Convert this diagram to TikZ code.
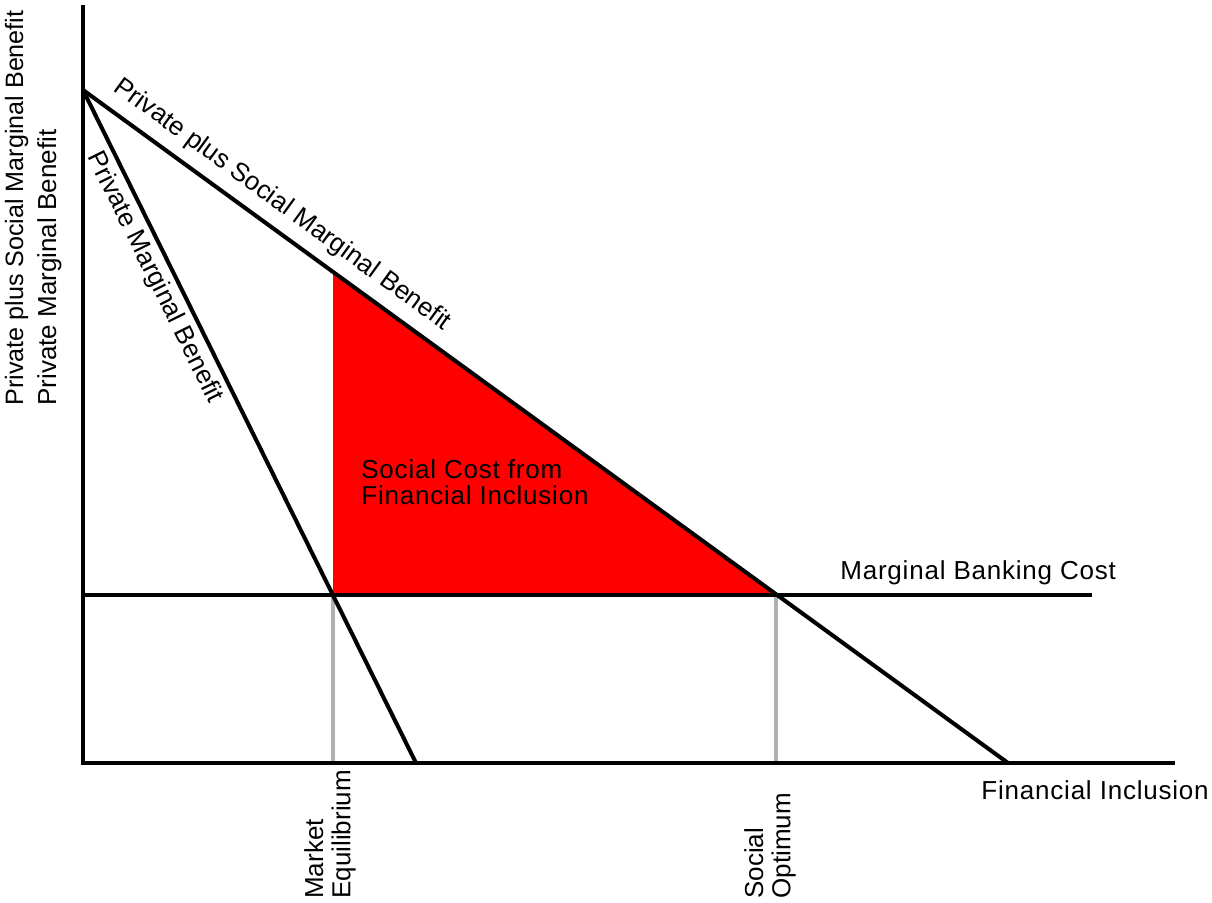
\documentclass[tikz,border=0pt]{standalone}
\usepackage{fontspec}
\setmainfont{Liberation Sans}
\newfontfamily\spacedfont{Liberation Sans}[LetterSpace=3]
\usepackage{tikz}
\usetikzlibrary{positioning}
\definecolor{areared}{RGB}{255,0,0}
\definecolor{guidegray}{RGB}{176,176,176}
\tikzset{
  axis/.style={line width=2.3pt, color=black},
  curve/.style={line width=2.3pt, color=black},
  guide/.style={line width=2.2pt, color=guidegray},
  lbl/.style={font=\fontsize{14.8}{15.6}\selectfont, inner sep=0pt, align=left},
  spacedlbl/.style={font=\spacedfont\fontsize{14.8}{14.9}\selectfont, inner sep=0pt, align=left}
}

\begin{document}
\begin{tikzpicture}[x=0.02cm, y=-0.02cm]
  \useasboundingbox (0,0) rectangle (1212,902);

  % Key points
  \coordinate (origin) at (83,763);
  \coordinate (ytop) at (83,5);
  \coordinate (xend) at (1175,763);
  \coordinate (peak) at (83,90);
  \coordinate (pmbend) at (416,763);
  \coordinate (psmbend) at (1008,763);
  \coordinate (mbcstart) at (83,595);
  \coordinate (mbcend) at (1092,595);
  \coordinate (meq) at (333,595);
  \coordinate (meqbase) at (333,763);
  \coordinate (sopt) at (776,595);
  \coordinate (soptbase) at (776,763);
  \coordinate (costtop) at (333,272);

  % Social cost area
  \fill[areared] (costtop) -- (meq) -- (sopt) -- cycle;
  \node[spacedlbl, anchor=north west] (costlbl) at (361,459) {Social Cost from\\Financial Inclusion};

  % Guides down to the axis
  \draw[guide] (meq) -- (meqbase);
  \draw[guide] (sopt) -- (soptbase);

  % Axes
  \draw[axis] (ytop) -- (origin) -- (xend);
  \node[lbl, font=\fontsize{14.3}{15}\selectfont, rotate=90, anchor=base west] (ysocial) at (23,406) {Private plus Social Marginal Benefit};
  \node[lbl, rotate=90, anchor=base west] (yprivate) at (56,406) {Private Marginal Benefit};
  \node[spacedlbl, anchor=base east] (xlbl) at (1209,799) {Financial Inclusion};

  % Benefit curves
  \draw[curve] (peak) -- node[lbl, sloped, above=0.2cm, pos=0.2] (psmblbl) {Private plus Social Marginal Benefit} (psmbend);
  \draw[curve] (peak) -- node[lbl, sloped, below=0.1cm, pos=0.266] (pmblbl) {Private Marginal Benefit} (pmbend);

  % Banking cost
  \draw[curve] (mbcstart) -- (mbcend);
  \node[spacedlbl, anchor=base west] (mbclbl) at (840,579) {Marginal Banking Cost};

  % Equilibria
  \node[lbl, rotate=90, anchor=west] (meqlbl) at (330,899) {Market\\Equilibrium};
  \node[lbl, rotate=90, anchor=west] (soptlbl) at (770,899) {Social\\Optimum};
\end{tikzpicture}
\end{document}
